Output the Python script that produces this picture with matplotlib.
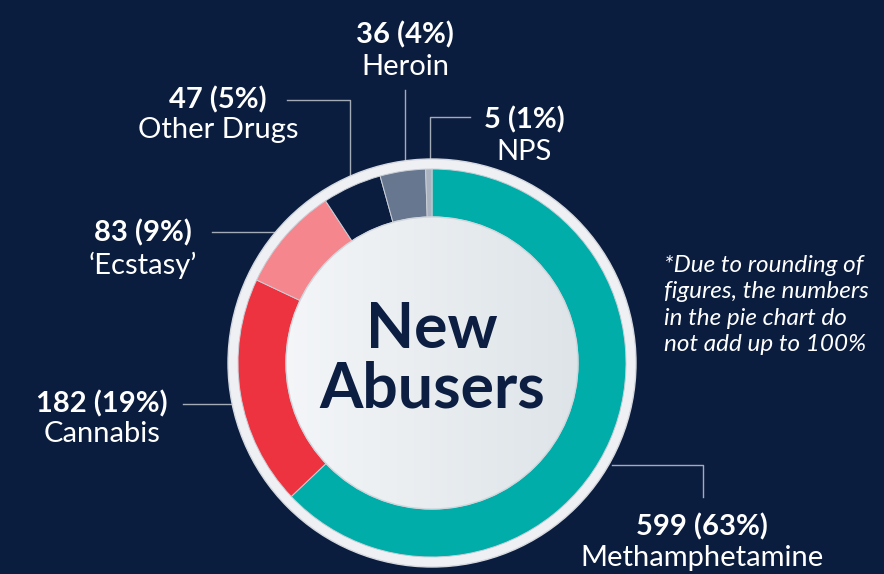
import matplotlib.pyplot as plt
import numpy as np
from matplotlib.patches import Circle

# data
drugs = ["Methamphetamine", "Cannabis", "\u2018Ecstasy\u2019", "Other Drugs", "Heroin", "NPS"]
counts = [599, 182, 83, 47, 36, 5]
percents = [63, 19, 9, 5, 4, 1]
colors = ["#00ada8", "#ee3340", "#f6868e", "#0b1d3f", "#687790", "#aab3bf"]

BG = "#0b1d3f"
LINE = "#a3abb7"
H = 574

plt.rcParams['font.family'] = ['Lato', 'DejaVu Sans']

fig = plt.figure(figsize=(8.84, 5.74), dpi=100, facecolor=BG)
ax = fig.add_axes([0, 0, 1, 1])
ax.set_facecolor(BG)

cx, cy = 432, H - 363

# outer white ring
ax.add_patch(Circle((cx, cy), 204, facecolor="#eef0f3", edgecolor="#d5d9df", lw=1.0, zorder=1))

ax.pie(counts, colors=colors, startangle=90, counterclock=False,
       center=(cx, cy), radius=194, frame=True,
       wedgeprops=dict(width=194 - 146, edgecolor="#c9ced6", linewidth=0.7, zorder=2))

# inner circle with soft gradient
grad = np.linspace(0, 1, 256).reshape(1, -1)
c1 = np.array([0.955, 0.963, 0.973])
c2 = np.array([0.870, 0.895, 0.910])
img = c1 + (c2 - c1) * grad[..., None]
im = ax.imshow(img, extent=(cx - 146, cx + 146, cy - 146, cy + 146), zorder=3, aspect='auto')
clip = Circle((cx, cy), 146, transform=ax.transData)
im.set_clip_path(clip)
ax.add_patch(Circle((cx, cy), 146, facecolor='none', edgecolor="#d0d6dc", lw=1.0, zorder=4))
ax.set_xlim(0, 884)
ax.set_ylim(0, H)
ax.set_aspect('equal')
ax.axis('off')

ax.text(cx, H - 330, "New", ha='center', va='center', fontsize=45, fontweight='bold', color="#0c1f42", zorder=5)
ax.text(cx, H - 390, "Abusers", ha='center', va='center', fontsize=45, fontweight='bold', color="#0c1f42", zorder=5)

# labels: (x, value-line y, name-line y) in pixel coordinates
label_pos = {
    "Methamphetamine": (702, 527, 558),
    "Cannabis": (102, 404, 434),
    "\u2018Ecstasy\u2019": (143, 233, 265),
    "Other Drugs": (218, 100, 130),
    "Heroin": (405, 35, 67),
    "NPS": (524, 120, 152),
}
for name, n, p in zip(drugs, counts, percents):
    x, y1, y2 = label_pos[name]
    ax.text(x, H - y1, f"{n} ({p}%)", ha='center', va='center', fontsize=21, fontweight='bold', color='white')
    ax.text(x, H - y2, name, ha='center', va='center', fontsize=21, color='white')

# leader lines
leaders = [
    [(612, 465), (703, 465), (703, 497)],
    [(183, 404), (237, 404)],
    [(212, 232), (281, 232)],
    [(287, 100), (350, 100), (350, 186)],
    [(405, 90), (405, 163)],
    [(470, 117), (430, 117), (430, 165)],
]
for pts in leaders:
    xs = [p[0] for p in pts]
    ys = [H - p[1] for p in pts]
    ax.plot(xs, ys, color=LINE, lw=1.0, zorder=0.5)

note = "*Due to rounding of\nfigures, the numbers\nin the pie chart do\nnot add up to 100%"
ax.text(664, H - 305, note, ha='left', va='center', fontsize=17.5, style='italic',
        color='white', linespacing=1.3)

fig.savefig("out.png", dpi=100, facecolor=BG)
